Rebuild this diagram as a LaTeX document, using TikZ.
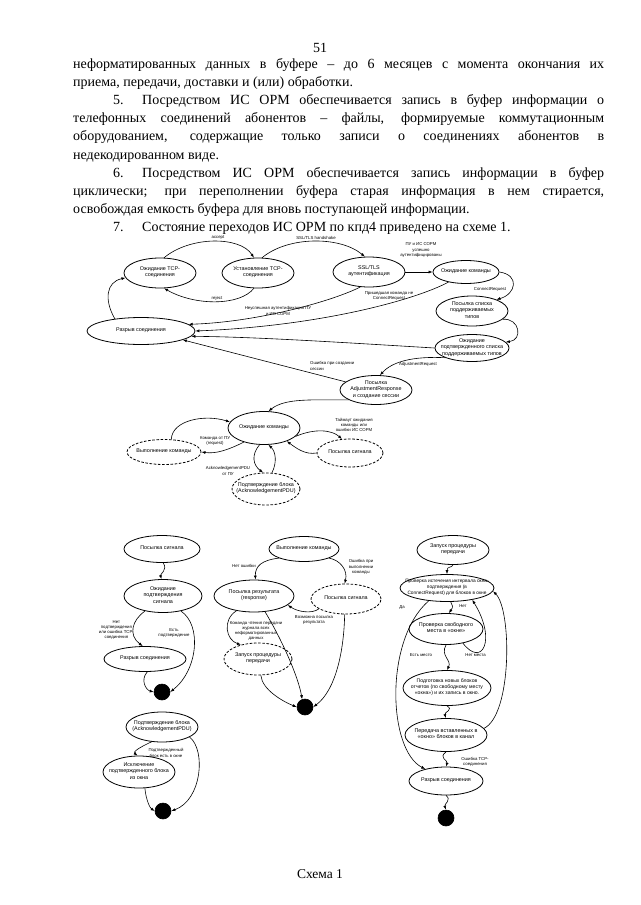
\documentclass[tikz,border=0pt]{standalone}
\usepackage{fontspec}
\setmainfont{Liberation Serif}
\newfontfamily\dsans{Liberation Sans}
\usetikzlibrary{arrows.meta,shapes.geometric}
\newcommand{\ntx}[1]{\makebox[0pt]{\raisebox{-0.3em}{\smash{\begin{tabular}{@{}c@{}}#1\end{tabular}}}}}
\begin{document}
\begin{tikzpicture}[x=1pt,y=-1pt,
  st/.style={ellipse,draw,line width=0.8pt,inner sep=0pt,font=\dsans\fontsize{5.4}{6.2}\selectfont},
  dsh/.style={st,dash pattern=on 2.6pt off 1.6pt},
  lbl/.style={inner sep=0pt,align=center,font=\dsans\fontsize{4.3}{5.2}\selectfont},
  ar/.style={-{Latex[length=4pt,width=3pt]},line width=0.6pt},
  txt/.style={inner sep=0pt,anchor=base west,font=\fontsize{14}{16}\selectfont},
  endc/.style={circle,fill=black,draw=black,line width=0.6pt,minimum size=16pt,inner sep=0pt}
]
\useasboundingbox[fill=white] (0,0) rectangle (640,905);

% ---------------- body text ----------------
\node[txt,anchor=base] (pg) at (320,52) {51};
\node[txt] (t1) at (73,68.5) {\makebox[531pt][s]{неформатированных данных в буфере – до 6 месяцев с момента окончания их}};
\node[txt] (t2) at (73,86.6) {приема, передачи, доставки и (или) обработки.};
\node[txt] (t3n) at (113,104.7) {5.};
\node[txt] (t3) at (142,104.7) {\makebox[462pt][s]{Посредством ИС ОРМ обеспечивается запись в буфер информации о}};
\node[txt] (t4) at (73,122.8) {\makebox[531pt][s]{телефонных соединений абонентов – файлы, формируемые коммутационным}};
\node[txt] (t5) at (73,140.9) {\makebox[531pt][s]{оборудованием, содержащие только записи о соединениях абонентов в}};
\node[txt] (t6) at (73,159) {недекодированном виде.};
\node[txt] (t7n) at (113,177.1) {6.};
\node[txt] (t7) at (142,177.1) {\makebox[462pt][s]{Посредством ИС ОРМ обеспечивается запись информации в буфер}};
\node[txt] (t8) at (73,195.2) {\makebox[531pt][s]{циклически; при переполнении буфера старая информация в нем стирается,}};
\node[txt] (t9) at (73,213.3) {освобождая емкость буфера для вновь поступающей информации.};
\node[txt] (t10n) at (113,231.4) {7.};
\node[txt] (t10) at (142,231.4) {Состояние переходов ИС ОРМ по кпд4 приведено на схеме 1.};

% ---------------- top diagram ----------------
\node[st,minimum width=72,minimum height=30] (A) at (160,273) {\ntx{Ожидание TCP-\\соединения}};
\node[st,minimum width=72,minimum height=30] (B) at (258,273) {\ntx{Установление TCP-\\соединения}};
\node[st,minimum width=72,minimum height=30] (C) at (369,272) {\ntx{SSL/TLS\\аутентификация}};
\node[st,minimum width=66,minimum height=23] (D) at (466,272) {\ntx{Ожидание команды}};
\node[st,minimum width=72,minimum height=30] (E) at (472,311) {\ntx{Посылка списка\\поддерживаемых\\типов}};
\node[st,minimum width=74,minimum height=27] (F) at (472,348) {\ntx{Ожидание\\подтвержденного списка\\поддерживаемых типов}};
\node[st,minimum width=108,minimum height=27] (G) at (141,331) {\ntx{Разрыв соединения}};
\node[st,minimum width=72,minimum height=29] (H) at (376,390) {\ntx{Посылка\\AdjustmentResponse\\и создание сессии}};
\node[st,minimum width=72,minimum height=33] (I) at (264,428) {\ntx{Ожидание команды}};
\node[dsh,minimum width=74,minimum height=25] (J) at (164,452) {\ntx{Выполнение команды}};
\node[dsh,minimum width=66,minimum height=28] (K) at (350,453) {\ntx{Посылка сигнала}};
\node[dsh,minimum width=68,minimum height=32] (L) at (266,489) {\ntx{Подтверждение блока\\(AcknowledgementPDU)}};

\draw[ar] (A.75) .. controls (190,236) and (240,236) .. (B.105);
\draw[ar] (B.75) .. controls (288,236) and (340,236) .. (C.105);
\draw[ar] (B.255) .. controls (240,306) and (195,306) .. (A.285);
\draw[ar] (G.155) .. controls (104,300) and (106,282) .. (A.188);
\draw[ar] (C.east) -- (D.west);
\draw[ar] (C.240) .. controls (335,300) and (260,322) .. (G.8);
\draw[ar] (D.210) .. controls (415,300) and (320,326) .. (G.0);
\draw[ar] (F.west) .. controls (350,343) and (260,337) .. (G.-6);
\draw[ar] (D.east) .. controls (520,275) and (516,294) .. (E.25);
\draw[ar] (E.-15) .. controls (520,318) and (523,340) .. (F.10);
\draw[ar] (F.200) .. controls (412,356) and (392,362) .. (H.75);
\draw[ar] (H.165) -- (G.-12);
\draw[ar] (H.200) .. controls (312,400) and (285,398) .. (I.75);
\draw[ar] (J.60) .. controls (172,420) and (205,414) .. (I.170);
\draw[ar] (I.215) .. controls (228,450) and (216,454) .. (J.east);
\draw[ar] (I.255) .. controls (251,455) and (253,465) .. (L.100);
\draw[ar] (L.70) .. controls (277,463) and (276,452) .. (I.-75);
\draw[ar] (I.-15) .. controls (315,428) and (332,430) .. (K.120);
\draw[ar] (K.west) .. controls (305,455) and (296,448) .. (I.-30);

\node[lbl] (la) at (218,238) {accept};
\node[lbl] (lb) at (316,238) {SSL/TLS handshake};
\node[lbl] (lc) at (217,298) {reject};
\node[lbl] (ld) at (421,250) {ПУ и ИС СОРМ\\успешно\\аутентифицированы};
\node[lbl] (le) at (278,311) {Неуспешная аутентификация ПУ\\и ИС СОРМ};
\node[lbl] (lf) at (389,296) {Пришедшая команда не\\ConnectRequest};
\node[lbl] (lg) at (490,289) {ConnectRequest};
\node[lbl] (lh) at (418,364) {AdjustmentRequest};
\node[lbl,align=left,anchor=west] (li) at (310,366) {Ошибка при создании\\сессии};
\node[lbl] (lj) at (354,425) {Таймаут ожидания\\команды или\\ошибки ИС СОРМ};
\node[lbl] (lk) at (215,441) {Команда от ПУ\\(request)};
\node[lbl] (ll) at (228,471) {AcknowledgementPDU\\от ПУ};

% ---------------- bottom left ----------------
\node[st,minimum width=76,minimum height=27] (P1) at (162,549) {\ntx{Посылка сигнала}};
\node[st,minimum width=78,minimum height=33] (P2) at (163,596) {\ntx{Ожидание\\подтверждения\\сигнала}};
\node[st,minimum width=82,minimum height=25] (P3) at (145,659) {\ntx{Разрыв соединения}};
\node[endc] (E1) at (162,692) {};
\draw[ar] (P1.-85) .. controls (168,570) and (160,574) .. (P2.95);
\draw[ar] (P2.220) .. controls (132,620) and (128,635) .. (P3.100);
\draw[ar] (P2.-40) .. controls (202,625) and (198,670) .. (E1.east);
\draw[ar] (P3.-80) .. controls (140,680) and (146,690) .. (E1.west);
\node[lbl,anchor=east] (lm) at (134,630) {Нет\\подтверждения\\или ошибка TCP-\\соединения};
\node[lbl] (ln) at (174,633) {Есть\\подтверждение};

\node[st,minimum width=72,minimum height=30] (Q1) at (162,727) {\ntx{Подтверждение блока\\(AcknowledgementPDU)}};
\node[st,minimum width=72,minimum height=32] (Q2) at (139,772) {\ntx{Исключение\\подтвержденного блока\\из окна}};
\node[endc] (E2) at (163,811) {};
\draw[ar] (Q1.235) .. controls (138,748) and (133,752) .. (Q2.95);
\draw[ar] (Q1.-20) .. controls (206,750) and (202,800) .. (E2.east);
\draw[ar] (Q2.-70) .. controls (146,800) and (150,808) .. (E2.west);
\node[lbl] (lq) at (166,753) {Подтвержденный\\блок есть в окне};

% ---------------- bottom middle ----------------
\node[st,minimum width=70,minimum height=25] (M1) at (304,549) {\ntx{Выполнение команды}};
\node[st,minimum width=80,minimum height=32] (M2) at (254,596) {\ntx{Посылка результата\\(response)}};
\node[dsh,minimum width=70,minimum height=30] (M3) at (346,599) {\ntx{Посылка сигнала}};
\node[dsh,minimum width=68,minimum height=32] (M4) at (258,659) {\ntx{Запуск процедуры\\передачи}};
\node[endc] (E3) at (305,707) {};
\draw[ar] (M1.200) .. controls (262,560) and (255,566) .. (M2.85);
\draw[ar] (M1.-20) .. controls (340,560) and (348,570) .. (M3.95);
\draw[ar] (M3.200) .. controls (312,614) and (298,612) .. (M2.-15);
\draw[ar] (M2.220) .. controls (222,620) and (226,640) .. (M4.140);
\draw[ar] (M2.-55) .. controls (282,640) and (298,676) .. (E3.110);
\draw[ar] (M3.-95) .. controls (344,650) and (336,690) .. (E3.east);
\draw[ar] (M4.-80) .. controls (262,690) and (284,702) .. (E3.west);
\node[lbl] (lr) at (244,566) {Нет ошибки};
\node[lbl] (ls) at (361,567) {Ошибка при\\выполнении\\команды};
\node[lbl] (lt) at (314,620) {Возможна посылка\\результата};
\node[lbl] (lu) at (256,631) {Команда чтения передачи\\журнала всех\\неформатированных\\данных};

% ---------------- bottom right ----------------
\node[st,minimum width=72,minimum height=29] (R1) at (453,550) {\ntx{Запуск процедуры\\передачи}};
\node[st,minimum width=94,minimum height=27,font=\dsans\fontsize{4.8}{5.6}\selectfont] (R2) at (447,588) {\ntx{Проверка истечения интервала окна-\\подтверждения (в\\ConnectRequest) для блоков в окне}};
\node[st,minimum width=74,minimum height=31] (R3) at (446,629) {\ntx{Проверка свободного\\места в «окне»}};
\node[st,minimum width=88,minimum height=35,font=\dsans\fontsize{5.1}{6}\selectfont] (R4) at (447,688) {\ntx{Подготовка новых блоков\\отчетов (по свободному месту\\«окна») и их запись в окно.}};
\node[st,minimum width=82,minimum height=33] (R5) at (446,735) {\ntx{Передача вставленных в\\«окно» блоков в канал}};
\node[st,minimum width=74,minimum height=28] (R6) at (446,781) {\ntx{Разрыв соединения}};
\node[endc] (E4) at (446,818) {};
\draw[ar] (R1.south) .. controls (452,568) and (447,566) .. (R2.north);
\draw[ar] (R2.-75) .. controls (452,606) and (454,606) .. (R3.80);
\draw[ar] (R2.215) .. controls (384,640) and (388,750) .. (R6.150);
\draw[ar] (R3.south) .. controls (440,656) and (452,660) .. (R4.north);
\draw[ar] (R3.-40) .. controls (482,668) and (497,640) .. (R2.-25);
\draw[ar] (R5.10) .. controls (512,715) and (512,610) .. (R2.-4);
\draw[ar] (R4.south) .. controls (454,710) and (444,712) .. (R5.north);
\draw[ar] (R5.south) .. controls (438,758) and (448,760) .. (R6.north);
\draw[ar] (R6.south) .. controls (452,800) and (444,804) .. (E4.north);
\node[lbl] (lv) at (402,607) {Да};
\node[lbl] (lw) at (463,606) {Нет};
\node[lbl] (lx) at (421,655) {Есть место};
\node[lbl,anchor=east] (ly) at (486,655) {Нет места};
\node[lbl] (lz) at (475,762) {Ошибка TCP-\\соединения};

\node[txt,anchor=base,font=\fontsize{13.5}{16}\selectfont] (cap) at (320,878) {Схема 1};
\end{tikzpicture}
\end{document}
